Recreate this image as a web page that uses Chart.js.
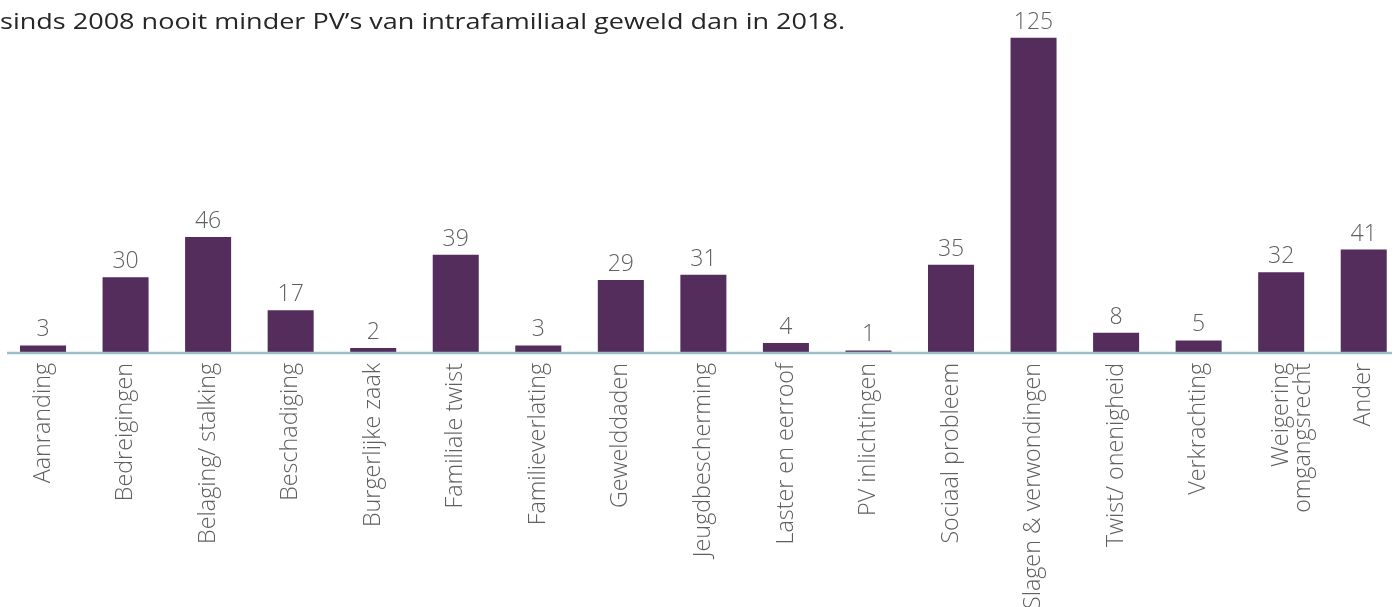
<!DOCTYPE html>
<html>
<head>
<meta charset="utf-8">
<script src="https://cdn.jsdelivr.net/npm/chart.js@4"></script>
<style>
  html, body { margin: 0; padding: 0; background: #fff; overflow: hidden; width: 1397px; height: 607px; }
  #wrap { position: relative; width: 1397px; height: 607px; overflow: hidden; }
  #c { position: absolute; left: 0; top: 0; }
  #intro { position: absolute; left: 0; top: 0px; line-height: 1; white-space: nowrap; color: #262626;
           font-family: 'Open Sans', sans-serif; font-weight: 400;
           font-size: 22px; transform-origin: 0 0; z-index: 2; }
</style>
</head>
<body>
<div id="wrap">
  <div id="intro">sinds 2008 nooit minder PV’s van intrafamiliaal geweld dan in 2018.</div>
  <canvas id="c" width="1405" height="607"></canvas>
</div>
<script>
const categories = [
  'Aanranding', 'Bedreigingen', 'Belaging/ stalking', 'Beschadiging', 'Burgerlijke zaak',
  'Familiale twist', 'Familieverlating', 'Gewelddaden', 'Jeugdbescherming', 'Laster en eerroof',
  'PV inlichtingen', 'Sociaal probleem', 'Slagen & verwondingen', 'Twist/ onenigheid',
  'Verkrachting', ['Weigering', 'omgangsrecht'], 'Ander'
];
const values = [3, 30, 46, 17, 2, 39, 3, 29, 31, 4, 1, 35, 125, 8, 5, 32, 41];

// fit intro text to reference (~845px wide, baseline ~30px)
(function(){
  const el = document.getElementById('intro');
  const w = el.getBoundingClientRect().width;
  el.style.transform = 'translateY(9px) scaleX(' + (845 / w) + ')';
})();

const valueLabels = {
  id: 'valueLabels',
  afterDatasetsDraw(chart) {
    const ctx = chart.ctx;
    const meta = chart.getDatasetMeta(0);
    const ys = chart.scales.y;
    ctx.save();
    const y0 = ys.getPixelForValue(0);
    ctx.strokeStyle = '#9cc2c7';
    ctx.lineWidth = 2.5;
    ctx.beginPath();
    ctx.moveTo(7, y0);
    ctx.lineTo(1392, y0);
    ctx.stroke();
    ctx.fillStyle = '#5f5f5f';
    ctx.font = '300 23px "Open Sans", sans-serif';
    ctx.textAlign = 'center';
    ctx.textBaseline = 'alphabetic';
    meta.data.forEach((bar, i) => {
      ctx.fillText(String(values[i]), bar.x, bar.y - 9);
    });
    ctx.restore();
  }
};

new Chart(document.getElementById('c'), {
  type: 'bar',
  data: {
    labels: categories,
    datasets: [{
      data: values,
      backgroundColor: '#552d5d',
      borderWidth: 0,
      categoryPercentage: 1,
      barPercentage: 0.5576
    }]
  },
  options: {
    responsive: false,
    animation: false,
    devicePixelRatio: 1,
    layout: { padding: { left: 1.75, right: 0, top: 0, bottom: 0 } },
    plugins: { legend: { display: false }, tooltip: { enabled: false } },
    scales: {
      y: { display: false, min: 0, max: 140 },
      x: {
        grid: { display: false, drawTicks: false },
        border: { display: false },
        ticks: {
          autoSkip: false,
          maxRotation: 90,
          minRotation: 90,
          padding: 10,
          color: '#5f5f5f',
          font: { family: '"Open Sans", sans-serif', size: 23.3, weight: 300, lineHeight: 0.95 }
        },
        afterFit(scale) { scale.height = 254; scale.paddingLeft = 0; scale.paddingRight = 0; }
      }
    }
  },
  plugins: [valueLabels]
});
</script>
</body>
</html>
